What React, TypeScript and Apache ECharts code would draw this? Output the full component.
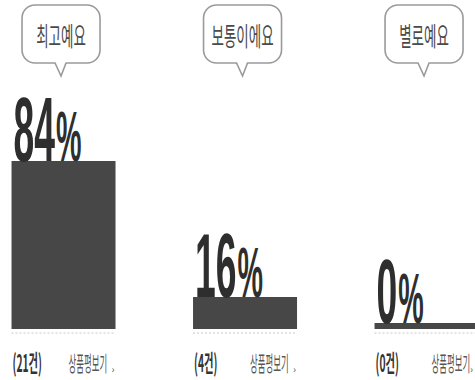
import React, { useEffect, useRef } from "react";
import * as echarts from "echarts";

// Review rating summary: share of reviews per rating, with review counts.
const categories = ["최고예요", "보통이에요", "별로예요"];
const percents = [84, 16, 0];
const counts = [21, 4, 0];
const reviewLink = "상품평보기";

const BAR_W = 104;
const MIN_H = 6;
const DIGIT_SIZE = 91;
const PCT_SIZE = 70;
const SX = 0.41;
const NUM_FONT = '"Liberation Sans Narrow", "Liberation Sans", sans-serif';
const KR_FONT = '"Noto Sans CJK KR", sans-serif';

function measure(text: string, font: string): number {
  const ctx = document.createElement("canvas").getContext("2d");
  if (!ctx) return text.length * 40;
  ctx.font = font;
  return ctx.measureText(text).width;
}

export default function App() {
  const ref = useRef<HTMLDivElement>(null);

  useEffect(() => {
    if (!ref.current) return;
    const chart = echarts.init(ref.current, undefined, { renderer: "svg" });

    const renderItem = (params: any, api: any) => {
      const i = api.value(0);
      const v = api.value(1);
      const n = api.value(2);
      const [cx, top] = api.coord([i, v]);
      const base = api.coord([i, 0])[1];
      const left = cx - BAR_W / 2;
      const labelBase = Math.min(top, base - MIN_H);
      const digits = String(v);
      const dW = measure(digits, `bold ${DIGIT_SIZE}px ${NUM_FONT}`) * SX;
      const bx = cx - 2.5;
      const chartW = api.getWidth();

      return {
        type: "group",
        children: [
          // speech bubble with the rating name
          {
            type: "rect",
            shape: { x: bx - 39, y: 5, width: 78, height: 58, r: 13 },
            style: { fill: "#fff", stroke: "#9a9a9a", lineWidth: 1.6 },
          },
          {
            type: "polygon",
            shape: { points: [[bx - 6, 61], [bx + 5, 61], [bx, 76]] },
            style: { fill: "#fff", stroke: null },
          },
          {
            type: "polyline",
            shape: { points: [[bx - 6, 63], [bx, 76], [bx + 5, 63]] },
            style: { fill: null, stroke: "#9a9a9a", lineWidth: 1.6 },
          },
          {
            type: "text",
            x: bx,
            y: 35,
            scaleX: 0.52,
            style: {
              text: categories[i],
              x: 0,
              y: 0,
              align: "center",
              verticalAlign: "middle",
              font: `normal 26px ${KR_FONT}`,
              fill: "#4a4a4a",
            },
          },
          // big percentage label sitting on the bar
          {
            type: "text",
            x: left + 2,
            y: labelBase - 0.3465 * DIGIT_SIZE,
            scaleX: SX,
            style: {
              text: digits,
              x: 0,
              y: 0,
              align: "left",
              verticalAlign: "middle",
              font: `bold ${DIGIT_SIZE}px ${NUM_FONT}`,
              fill: "#2e2e2e",
            },
          },
          {
            type: "text",
            x: left + 3 + dW,
            y: labelBase - 0.3465 * PCT_SIZE,
            scaleX: SX,
            style: {
              text: "%",
              x: 0,
              y: 0,
              align: "left",
              verticalAlign: "middle",
              font: `bold ${PCT_SIZE}px ${NUM_FONT}`,
              fill: "#2e2e2e",
            },
          },
          // dotted baseline under the bar
          {
            type: "line",
            shape: { x1: left, y1: base + 4, x2: left + BAR_W, y2: base + 4 },
            style: { stroke: "#c8c8c8", lineWidth: 1, lineDash: [2, 2] },
          },
          // review count and link text
          {
            type: "text",
            x: left + 1,
            y: 362,
            scaleX: 0.43,
            style: {
              text: `(${n}건)`,
              x: 0,
              y: 0,
              align: "left",
              verticalAlign: "middle",
              font: `bold 24px ${KR_FONT}`,
              fill: "#333",
            },
          },
          {
            type: "text",
            x: left + 57,
            y: 362,
            scaleX: 0.4,
            style: {
              text: reviewLink,
              x: 0,
              y: 0,
              align: "left",
              verticalAlign: "middle",
              font: `normal 21px ${KR_FONT}`,
              fill: "#555",
            },
          },
          {
            type: "text",
            x: Math.min(left + 100, chartW - 5),
            y: 368,
            style: {
              text: "›",
              x: 0,
              y: 0,
              align: "left",
              verticalAlign: "middle",
              font: `normal 10px ${KR_FONT}`,
              fill: "#555",
            },
          },
        ],
      };
    };

    chart.setOption({
      animation: false,
      backgroundColor: "#fff",
      grid: { left: 0, right: 0, top: 129, height: 200 },
      // positions 0..2 map to the three rating columns
      xAxis: { type: "value", min: -0.35, max: 2.267, show: false },
      yAxis: { type: "value", min: 0, max: 100, show: false },
      series: [
        {
          type: "bar",
          data: percents.map((p, i) => [i, p]),
          barWidth: BAR_W,
          barMinHeight: MIN_H,
          itemStyle: { color: "#474747" },
          silent: true,
        },
        {
          type: "custom",
          data: percents.map((p, i) => [i, p, counts[i]]),
          encode: { x: 0, y: 1 },
          renderItem,
          clip: false,
          z: 3,
          silent: true,
        },
      ],
    });

    return () => chart.dispose();
  }, []);

  return (
    <div
      ref={ref}
      style={{ position: "absolute", left: 0, top: 0, width: 475, height: 380, background: "#fff" }}
    />
  );
}
